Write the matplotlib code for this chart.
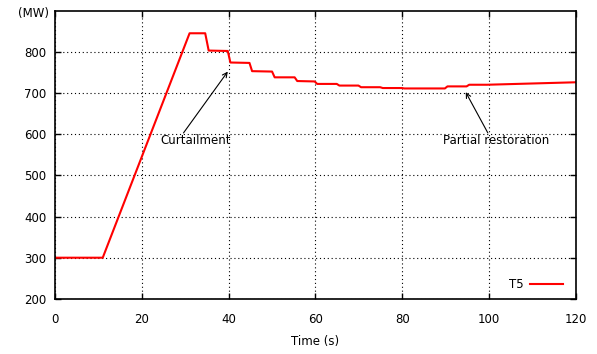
import numpy as np
import matplotlib
matplotlib.use("Agg")
import matplotlib.pyplot as plt

# T5 output (MW) vs time (s)
time_s = [0, 11, 31, 34.6, 35.4, 39.8, 40.4, 44.8, 45.4, 50.0, 50.6, 55.2, 55.8,
          59.8, 60.4, 64.9, 65.5, 69.9, 70.5, 74.9, 75.5, 79.9, 80.5, 89.8, 90.4,
          94.8, 95.4, 99.5, 120]
power_mw = [300, 300, 845, 845, 803, 802, 774, 773, 753, 752, 738, 738, 729,
            728, 722, 722, 718, 718, 714, 714, 712, 712, 711, 711, 716,
            716, 720, 720, 726]

xticks = [0, 20, 40, 60, 80, 100, 120]
yticks = [200, 300, 400, 500, 600, 700, 800]

plt.rcParams.update({'font.size': 8.5, 'font.family': 'DejaVu Sans'})
fig = plt.figure(figsize=(5.97, 3.54), dpi=100)
ax = fig.add_axes([0.0921, 0.1557, 0.8727, 0.8143])

ax.plot(time_s, power_mw, color='red', lw=1.5, label='T5')

ax.set_xlim(0, 120)
ax.set_ylim(200, 900)
ax.set_xticks(xticks)
ax.set_yticks(yticks)
ax.tick_params(axis='y', direction='in', right=True, length=4, width=1, pad=6)
ax.tick_params(axis='x', direction='in', top=True, length=4, width=1, pad=10)
ax.grid(True, color='black', linestyle=(0, (1, 2.5)), linewidth=0.8)
for s in ax.spines.values():
    s.set_linewidth(1.2)

ax.text(-0.012, 0.99, '(MW)', transform=ax.transAxes, ha='right', va='center')
ax.set_xlabel('Time (s)', labelpad=7)

# arrows: tail just above the label text, head on the curve
arrow = dict(arrowstyle='->', color='black', lw=0.8, shrinkA=0, shrinkB=0)
ax.annotate('', xy=(39.8, 752), xytext=(29.6, 603), arrowprops=arrow)
ax.text(32.3, 585, 'Curtailment', ha='center', va='center')
ax.annotate('', xy=(94.6, 702), xytext=(99.7, 603), arrowprops=arrow)
ax.text(101.5, 585, 'Partial restoration', ha='center', va='center')

ax.legend(loc='lower right', frameon=False, markerfirst=False,
          handlelength=2.8, handletextpad=0.5, bbox_to_anchor=(0.995, -0.01))

plt.savefig('out.png', dpi=100)
